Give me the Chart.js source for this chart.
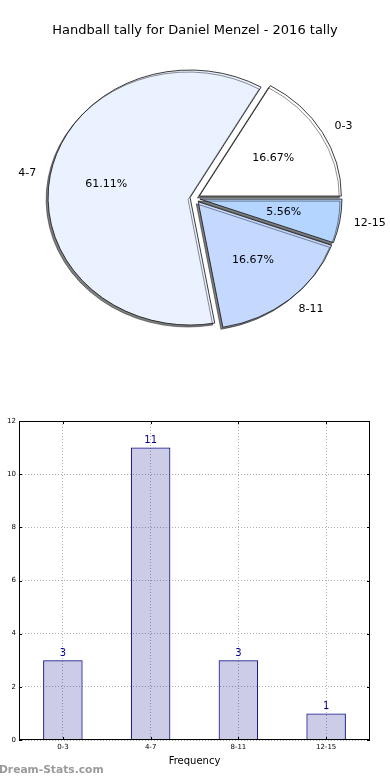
<!DOCTYPE html>
<html>
<head>
<meta charset="utf-8">
<script src="https://cdn.jsdelivr.net/npm/chart.js@4.4.1/dist/chart.umd.min.js"></script>
<style>
  html, body { margin: 0; padding: 0; background: #fff; width: 390px; height: 780px; overflow: hidden; }
  #pieWrap { position: absolute; left: 0; top: 0; width: 390px; height: 400px; }
  #barWrap { position: absolute; left: 0; top: 400px; width: 390px; height: 380px; }
  #wm { position: absolute; left: -1px; top: 763px; font: bold 10.7px "DejaVu Sans", sans-serif; color: #9a9a9a; white-space: nowrap; }
</style>
</head>
<body>
<div id="pieWrap"><canvas id="pie" width="390" height="400"></canvas></div>
<div id="barWrap"><canvas id="bar" width="390" height="380"></canvas></div>
<div id="wm">Dream-Stats.com</div>
<script>
// ---- data ----
const categories = ['0-3', '4-7', '8-11', '12-15'];
const tallyValues = [3, 11, 3, 1];
const pieColors = ['#ffffff', '#ebf2ff', '#c5d9ff', '#b4d5ff'];
const yTicks = [0, 2, 4, 6, 8, 10, 12];
const chartTitle = 'Handball tally for Daniel Menzel - 2016 tally';
const xTitle = 'Frequency';
const yTitle = 'Goals Scored';

const FONT = '"DejaVu Sans", "Liberation Sans", sans-serif';
const RY = 127.5 / 142;   // vertical squash of the pie
const EXPLODE = 5;        // px each slice is pulled out
const total = tallyValues.reduce((a, b) => a + b, 0);

const pieTransform = {
  id: 'pieTransform',
  beforeDatasetsDraw(chart) {
    const ctx = chart.ctx;
    const meta = chart.getDatasetMeta(0);
    meta.data.forEach(arc => {
      const m = (arc.startAngle + arc.endAngle) / 2;
      ctx.save();
      ctx.translate(arc.x, arc.y);
      ctx.scale(1, -RY);
      ctx.translate(-arc.x, -arc.y);
      ctx.translate(Math.cos(m) * EXPLODE, Math.sin(m) * EXPLODE);
      ctx.shadowColor = 'rgba(0,0,0,0.5)';
      ctx.shadowOffsetX = -2;
      ctx.shadowOffsetY = 2;
      ctx.shadowBlur = 0;
      arc.draw(ctx);
      ctx.restore();
    });
    return false;
  },
  afterDraw(chart) {
    const ctx = chart.ctx;
    const meta = chart.getDatasetMeta(0);
    ctx.save();
    ctx.fillStyle = '#000';
    ctx.font = '11px ' + FONT;
    ctx.textBaseline = 'middle';
    meta.data.forEach((arc, i) => {
      const m = (arc.startAngle + arc.endAngle) / 2;
      const off = EXPLODE;
      const r = arc.outerRadius;
      const cx = arc.x, cy = arc.y;
      const c = Math.cos(m), s = Math.sin(m);
      const lx = cx + (off + 1.1 * r) * c;
      const ly = cy - RY * (off + 1.1 * r) * s;
      ctx.textAlign = c >= 0 ? 'left' : 'right';
      ctx.fillText(categories[i], lx, ly);
      const px = cx + (off + 0.6 * r) * c;
      const py = cy - RY * (off + 0.6 * r) * s;
      ctx.textAlign = 'center';
      ctx.fillText((tallyValues[i] / total * 100).toFixed(2) + '%', px, py);
    });
    ctx.restore();
  }
};

new Chart(document.getElementById('pie'), {
  type: 'pie',
  data: {
    labels: categories,
    datasets: [{
      data: tallyValues,
      backgroundColor: pieColors,
      borderColor: '#1a1a1a',
      borderWidth: 0.9,
      offset: 0,
      hoverOffset: 0
    }]
  },
  options: {
    responsive: false,
    animation: false,
    rotation: 90,
    radius: 142,
    layout: { padding: { left: 1, right: 1, top: 0, bottom: 42 } },
    plugins: {
      legend: { display: false },
      tooltip: { enabled: false },
      title: {
        display: true,
        text: chartTitle,
        color: '#000',
        font: { family: FONT, size: 13, weight: 'normal' },
        padding: { top: 23, bottom: 0 }
      }
    }
  },
  plugins: [pieTransform]
});

const barExtras = {
  id: 'barExtras',
  afterDatasetsDraw(chart) {
    const ctx = chart.ctx;
    const ca = chart.chartArea;
    ctx.save();
    ctx.strokeStyle = '#000';
    ctx.lineWidth = 1;
    ctx.strokeRect(Math.round(ca.left) + 0.5, Math.round(ca.top) + 0.5,
                   Math.round(ca.right - ca.left) - 1, Math.round(ca.bottom - ca.top) - 1);
    const xs = chart.scales.x, ys = chart.scales.y;
    ctx.beginPath();
    categories.forEach((c, i) => {
      const x = Math.round(xs.getPixelForValue(i)) + 0.5;
      ctx.moveTo(x, ca.top); ctx.lineTo(x, ca.top + 3);
      ctx.moveTo(x, ca.bottom); ctx.lineTo(x, ca.bottom - 3);
    });
    yTicks.forEach(v => {
      const y = Math.round(ys.getPixelForValue(v)) + 0.5;
      ctx.moveTo(ca.right, y); ctx.lineTo(ca.right - 3, y);
      ctx.moveTo(ca.left, y); ctx.lineTo(ca.left + 3, y);
    });
    ctx.stroke();
    const meta = chart.getDatasetMeta(0);
    ctx.fillStyle = '#00008b';
    ctx.font = '10px ' + FONT;
    ctx.textAlign = 'center';
    ctx.textBaseline = 'bottom';
    meta.data.forEach((b, i) => {
      ctx.fillText(String(tallyValues[i]), b.x, b.y - 2);
    });
    ctx.fillStyle = '#000';
    ctx.font = '10px ' + FONT;
    ctx.translate(-5, 180);
    ctx.rotate(-Math.PI / 2);
    ctx.textAlign = 'center';
    ctx.textBaseline = 'middle';
    ctx.fillText(yTitle, 0, 0);
    ctx.restore();
  }
};

new Chart(document.getElementById('bar'), {
  type: 'bar',
  data: {
    labels: categories,
    datasets: [{
      data: tallyValues,
      backgroundColor: 'rgba(0,0,128,0.2)',
      borderColor: '#000080',
      borderWidth: 1,
      barPercentage: 0.45,
      categoryPercentage: 1.0
    }]
  },
  options: {
    responsive: false,
    animation: false,
    layout: { padding: { left: 0, right: 20, top: 21, bottom: 13 } },
    plugins: { legend: { display: false }, tooltip: { enabled: false } },
    scales: {
      x: {
        grid: { offset: false, color: '#b0b0b0', lineWidth: 1, drawTicks: false, tickLength: 0 },
        border: { display: false, dash: [1, 2] },
        ticks: { color: '#000', font: { family: FONT, size: 7 }, padding: 3, maxRotation: 0 },
        title: { display: true, text: xTitle, color: '#000', font: { family: FONT, size: 10 }, padding: { top: 3, bottom: 0 } },
        afterFit(s) { s.height = 27; }
      },
      y: {
        min: 0, max: 12,
        afterBuildTicks(s) { s.ticks = yTicks.map(v => ({ value: v })); },
        grid: { color: '#b0b0b0', lineWidth: 1, drawTicks: false, tickLength: 0 },
        border: { display: false, dash: [1, 2] },
        ticks: { color: '#000', font: { family: FONT, size: 7 }, padding: 3 },
        afterFit(s) { s.width = 19; }
      }
    }
  },
  plugins: [barExtras]
});
</script>
</body>
</html>
